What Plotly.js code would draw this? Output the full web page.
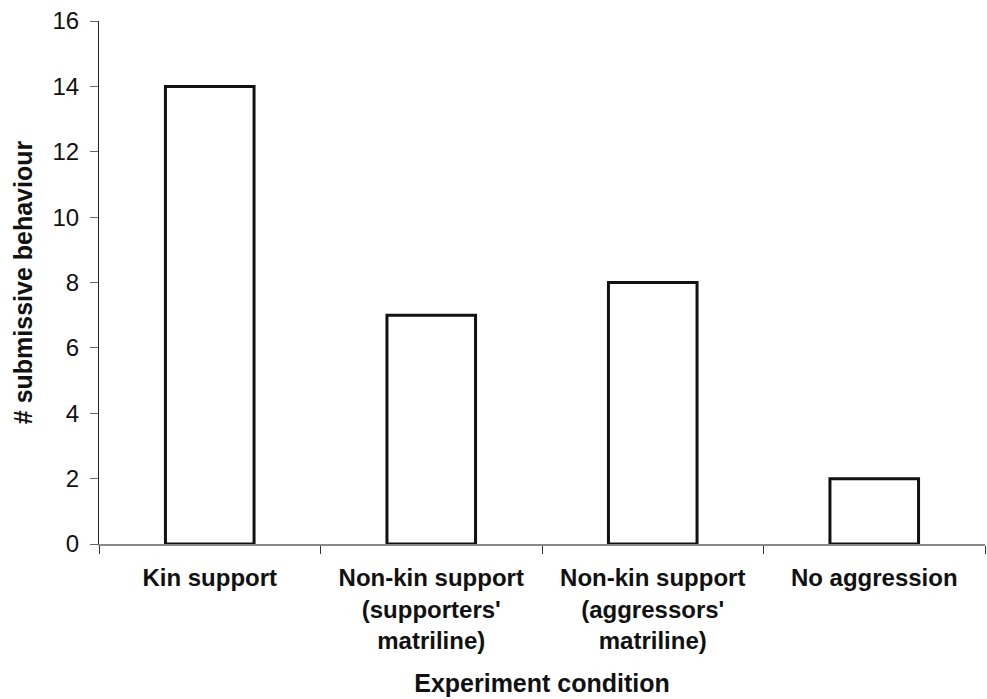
<!DOCTYPE html>
<html><head><meta charset="utf-8">
<script src="https://cdn.plot.ly/plotly-3.0.1.min.js"></script>
<style>html,body{margin:0;padding:0;background:#fff}#chart{width:987px;height:699px}</style>
</head><body><div id="chart"></div>
<script>
const categories = ["Kin support", "Non-kin support<br>(supporters'<br>matriline)", "Non-kin support<br>(aggressors'<br>matriline)", "No aggression"];
const values = [14, 7, 8, 2];
const yTicks = [0, 2, 4, 6, 8, 10, 12, 14, 16];

const font = {family: "Liberation Sans, Arial, sans-serif", color: "#111"};

Plotly.newPlot("chart", [{
  type: "bar",
  x: categories,
  y: values,
  width: 0.4,
  marker: {color: "#ffffff", line: {color: "#111", width: 3}},
  hoverinfo: "none"
}], {
  width: 987, height: 699,
  margin: {l: 99, r: 2, t: 21, b: 155},
  paper_bgcolor: "#fff", plot_bgcolor: "#fff",
  showlegend: false,
  font: font,
  xaxis: {
    type: "category",
    tickson: "boundaries",
    ticks: "outside", ticklen: 8, tickcolor: "#333", tickwidth: 1,
    showline: true, linecolor: "#888", linewidth: 1.5,
    showgrid: false, zeroline: false,
    ticklabelstandoff: 12,
    tickfont: {family: font.family, size: 24, color: "#111", weight: "bold"},
    title: {text: "<b>Experiment condition</b>", font: {family: font.family, size: 25, color: "#111"}, standoff: 22}
  },
  yaxis: {
    range: [0, 16],
    tickvals: yTicks,
    ticks: "outside", ticklen: 8, tickcolor: "#666", tickwidth: 1,
    showline: true, linecolor: "#222", linewidth: 1,
    showgrid: false, zeroline: false,
    ticklabelstandoff: 6,
    tickfont: {family: font.family, size: 24, color: "#111"},
    title: {text: "<b># submissive behaviour</b>", font: {family: font.family, size: 25, color: "#111"}, standoff: 12}
  }
}, {displayModeBar: false, staticPlot: true});
</script></body></html>
